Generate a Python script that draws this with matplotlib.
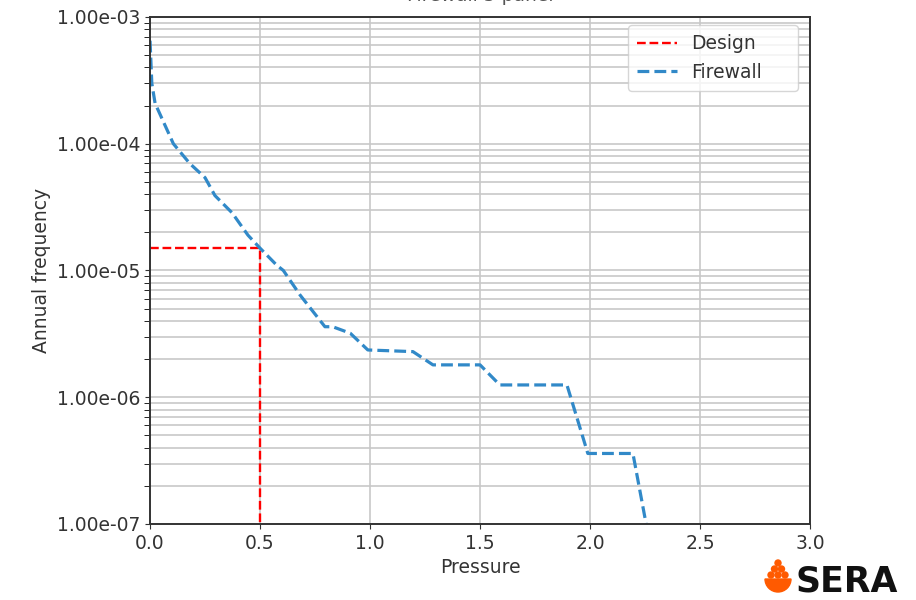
import matplotlib
matplotlib.use("Agg")
import matplotlib.pyplot as plt
from matplotlib.ticker import FormatStrFormatter
from matplotlib.patches import Circle, Wedge

# values
design_pressure = 0.5
design_freq = 1.5e-5

pressure = [0.0, 0.008, 0.023, 0.106, 0.18, 0.25, 0.295, 0.373, 0.445, 0.5,
            0.576, 0.606, 0.682, 0.795, 0.83, 0.91, 0.99, 1.195, 1.286, 1.5,
            1.59, 1.895, 1.99, 2.195, 2.255]
frequency = [6.5e-4, 3.0e-4, 2.08e-4, 1.0e-4, 7.0e-5, 5.4e-5, 3.9e-5, 2.85e-5, 1.9e-5, 1.5e-5,
             1.1e-5, 1.0e-5, 6.4e-6, 3.6e-6, 3.6e-6, 3.2e-6, 2.36e-6, 2.29e-6, 1.8e-6, 1.8e-6,
             1.25e-6, 1.25e-6, 3.6e-7, 3.6e-7, 1.0e-7]

FS = 13.5

fig = plt.figure(figsize=(9.16, 6), dpi=100)
ax = fig.add_axes([0.1638, 0.1267, 0.7205, 0.845])

ax.plot([0, design_pressure, design_pressure], [design_freq, design_freq, 1e-7],
        "--", color="red", lw=1.7, label="Design")
ax.plot(pressure, frequency, "--", color="#3189c8", lw=2.3, label="Firewall")

ax.set_yscale("log")
ax.set_xlim(0, 3.0)
ax.set_ylim(1e-7, 1e-3)
ax.yaxis.set_major_formatter(FormatStrFormatter("%.2e"))
ax.grid(which="both", axis="y", color="#c8c8c8", lw=1.2)
ax.grid(which="major", axis="x", color="#c8c8c8", lw=1.2)
ax.tick_params(labelsize=FS, colors="#333333")
ax.tick_params(axis="y", which="minor", length=4)
for s in ax.spines.values():
    s.set_color("#333333")
    s.set_linewidth(1.4)

ax.set_xlabel("Pressure", fontsize=FS, color="#333333")
ax.set_ylabel("Annual frequency", fontsize=FS, color="#333333")
ax.set_title("Firewall 5 panel", fontsize=FS, color="#555555", pad=11.5)

leg = ax.legend(loc="upper left", bbox_to_anchor=(0.724, 0.5, 0.258, 0.484),
                mode="expand", borderaxespad=0, fontsize=FS,
                handlelength=2.1, borderpad=0.5)
for t in leg.get_texts():
    t.set_color("#333333")

# SERA logo, bottom right (pixel coordinates, origin bottom-left)
fig.text(795 / 916, 9 / 600, "SERA", fontsize=25, fontweight="bold", color="#111111")
for cx, cy in [(778, 37), (774.5, 31), (781.5, 31), (771, 25), (778, 25), (785, 25)]:
    fig.add_artist(Circle((cx, cy), 3.0, color="#ff5a00", transform=None))
fig.add_artist(Wedge((778, 21), 13, 180, 360, color="#ff5a00", transform=None))

fig.savefig("out.png", dpi=100)
